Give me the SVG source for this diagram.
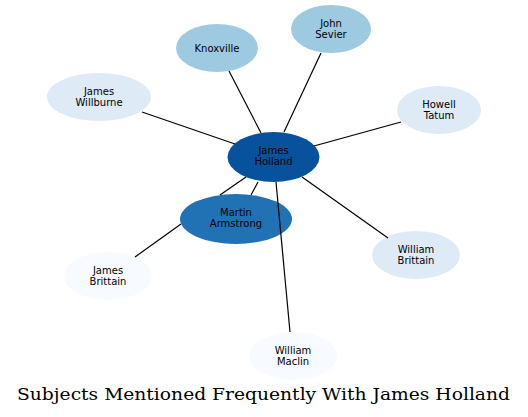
<svg xmlns="http://www.w3.org/2000/svg" width="528" height="417" viewBox="0 0 528 417">
<style>
.n text{font-family:"DejaVu Sans",sans-serif;font-size:10px;fill:#000;text-anchor:middle}
.e line{stroke:#000;stroke-width:1.2}
.title{font-family:"DejaVu Serif",serif;font-size:16.5px;fill:#000}
.c1{fill:#08519c}.c2{fill:#2171b5}.c3{fill:#9ecae1}.c4{fill:#deebf7}.c5{fill:#f7fbff}
</style>
<rect width="528" height="417" fill="#fff"/>
<g id="node-james-holland" class="n"><ellipse class="c1" cx="273.5" cy="157" rx="46" ry="25"/><text x="273.5" y="154">James</text><text x="273.5" y="165">Holland</text></g>
<g id="node-martin-armstrong" class="n"><ellipse class="c2" cx="236" cy="219" rx="56" ry="25"/><text x="236" y="216">Martin</text><text x="236" y="227">Armstrong</text></g>
<g id="node-knoxville" class="n"><ellipse class="c3" cx="217" cy="48" rx="41" ry="24"/><text x="217" y="51.5">Knoxville</text></g>
<g id="node-john-sevier" class="n"><ellipse class="c3" cx="331" cy="29" rx="40" ry="24"/><text x="331" y="27">John</text><text x="331" y="38">Sevier</text></g>
<g id="node-james-willburne" class="n"><ellipse class="c4" cx="99" cy="97" rx="52" ry="24"/><text x="99" y="95">James</text><text x="99" y="106">Willburne</text></g>
<g id="node-howell-tatum" class="n"><ellipse class="c4" cx="439" cy="110" rx="42" ry="24"/><text x="439" y="108">Howell</text><text x="439" y="119">Tatum</text></g>
<g id="node-william-brittain" class="n"><ellipse class="c4" cx="416" cy="255" rx="44" ry="24"/><text x="416" y="253">William</text><text x="416" y="264">Brittain</text></g>
<g id="node-james-brittain" class="n"><ellipse class="c5" cx="108" cy="276" rx="44" ry="24"/><text x="108" y="274">James</text><text x="108" y="285">Brittain</text></g>
<g id="node-william-maclin" class="n"><ellipse class="c5" cx="293" cy="356" rx="44" ry="24"/><text x="293" y="354">William</text><text x="293" y="365">Maclin</text></g>
<g id="edges" class="e">
<line x1="229" y1="71" x2="261" y2="133"/>
<line x1="321" y1="53" x2="284" y2="132"/>
<line x1="142" y1="112" x2="235" y2="144"/>
<line x1="401" y1="122" x2="314" y2="146"/>
<line x1="302" y1="177" x2="388" y2="238"/>
<line x1="258" y1="182" x2="251" y2="195"/>
<line x1="246" y1="177" x2="220" y2="195"/>
<line x1="181" y1="224" x2="135" y2="257"/>
<line x1="276" y1="182" x2="290" y2="332"/>
</g>
<text class="title" x="17" y="400" textLength="493" lengthAdjust="spacingAndGlyphs">Subjects Mentioned Frequently With James Holland</text>
</svg>
